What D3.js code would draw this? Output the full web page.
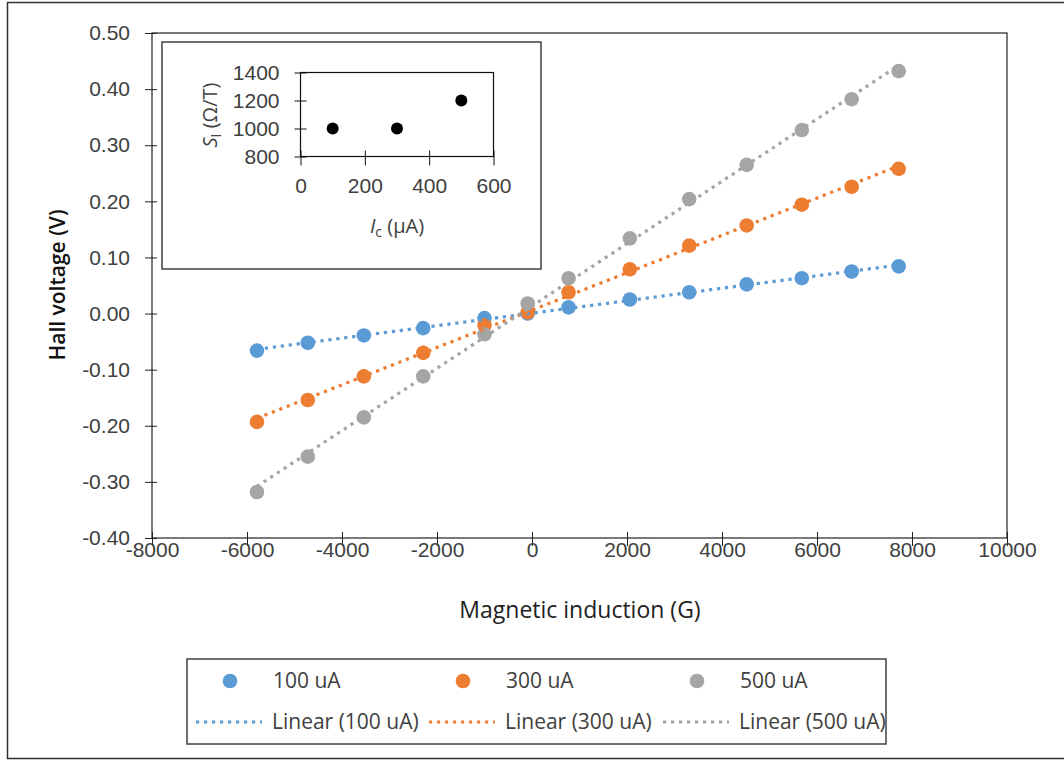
<!DOCTYPE html>
<html>
<head>
<meta charset="utf-8">
<script src="https://cdn.jsdelivr.net/npm/d3@7"></script>
<style>
body { margin: 0; background: #fff; }
svg { font-family: "Open Sans", sans-serif; }
.tick text { fill: #404040; font-size: 21px; }
</style>
</head>
<body>
<script>
// magnetic induction (G), same for every series
var field = [-5790, -4720, -3540, -2290, -1000, -90, 770, 2060, 3310, 4520, 5680, 6730, 7720]
var hall100 = [-0.066, -0.052, -0.039, -0.026, -0.008, 0.000, 0.011, 0.025, 0.038, 0.052, 0.063, 0.075, 0.084]
var hall300 = [-0.193, -0.154, -0.112, -0.070, -0.021, 0.002, 0.038, 0.079, 0.121, 0.157, 0.194, 0.226, 0.258]
var hall500 = [-0.318, -0.255, -0.185, -0.112, -0.037, 0.018, 0.063, 0.134, 0.204, 0.265, 0.327, 0.382, 0.432]
var names = ['100 uA', '300 uA', '500 uA']
var colors = ['#5B9BD5', '#ED7D31', '#A5A5A5']

var xTicks = [-8000, -6000, -4000, -2000, 0, 2000, 4000, 6000, 8000, 10000]
var yTicks = [-0.4, -0.3, -0.2, -0.1, 0, 0.1, 0.2, 0.3, 0.4, 0.5]

// inset: sensitivity vs current
var current = [100, 300, 500]
var sensitivity = [1000, 1000, 1200]
var insetXTicks = [0, 200, 400, 600]
var insetYTicks = [800, 1000, 1200, 1400]

var series = [hall100, hall300, hall500].map(function(vals, i){
  return {name: names[i], color: colors[i], pts: vals.map(function(v, j){ return {b: field[j], v: v} })}
})

var svg = d3.select('body').append('svg').attr('width', 1064).attr('height', 762)

// outer frame
svg.append('rect').attr('x', 7.5).attr('y', 2.5).attr('width', 1070).attr('height', 756)
  .attr('fill', 'none').attr('stroke', '#303030').attr('stroke-width', 1.5)

var x = d3.scaleLinear().domain([-8000, 10000]).range([152, 1007])
var y = d3.scaleLinear().domain([-0.4, 0.5]).range([538, 33])

var yAxis = svg.append('g').attr('transform', 'translate(152,0)')
  .call(d3.axisLeft(y).tickValues(yTicks).tickSize(0).tickPadding(22).tickFormat(function(d){ return d.toFixed(2) }))
yAxis.select('.domain').remove()
yAxis.selectAll('.tick line').attr('x1', -7).attr('x2', 5).attr('stroke', '#222')

var xAxis = svg.append('g').attr('transform', 'translate(0,538)')
  .call(d3.axisBottom(x).tickValues(xTicks).tickSize(0).tickPadding(4).tickFormat(function(d){ return String(d) }))
xAxis.select('.domain').remove()
xAxis.selectAll('.tick line').attr('y1', -6).attr('y2', 8).attr('stroke', '#222')

// plot box
svg.append('rect').attr('x', 152).attr('y', 33).attr('width', 1007 - 152).attr('height', 538 - 33)
  .attr('fill', 'none').attr('stroke', '#222').attr('stroke-width', 1.2)

svg.append('text').attr('x', 580).attr('y', 618).attr('text-anchor', 'middle')
  .attr('font-size', 23).attr('fill', '#222').text('Magnetic induction (G)')
svg.append('text').attr('transform', 'translate(58,285) rotate(-90)').attr('text-anchor', 'middle')
  .attr('dy', '0.35em').attr('font-size', 21).attr('font-weight', 600).attr('fill', '#111').text('Hall voltage (V)')

// markers
series.forEach(function(s){
  svg.append('g').selectAll('circle').data(s.pts).join('circle')
    .attr('cx', function(d){ return x(d.b) }).attr('cy', function(d){ return y(d.v) })
    .attr('r', 7.3).attr('fill', s.color)
})

// linear trendlines (least squares)
series.forEach(function(s){
  var mb = d3.mean(s.pts, function(d){ return d.b }), mv = d3.mean(s.pts, function(d){ return d.v })
  var num = d3.sum(s.pts, function(d){ return (d.b - mb) * (d.v - mv) })
  var den = d3.sum(s.pts, function(d){ return (d.b - mb) * (d.b - mb) })
  var k = num / den, c0 = mv - k * mb
  var ext = d3.extent(s.pts, function(d){ return d.b })
  svg.append('line')
    .attr('x1', x(ext[0])).attr('y1', y(k * ext[0] + c0))
    .attr('x2', x(ext[1])).attr('y2', y(k * ext[1] + c0))
    .attr('stroke', s.color).attr('stroke-width', 3.2).attr('stroke-dasharray', '3.2 4.8')
})

// inset
svg.append('rect').attr('x', 162).attr('y', 42).attr('width', 379).attr('height', 227)
  .attr('fill', '#fff').attr('stroke', '#404040').attr('stroke-width', 1.5)

var ix = d3.scaleLinear().domain([0, 600]).range([300.5, 493.5])
var iy = d3.scaleLinear().domain([800, 1400]).range([156.5, 72.5])

var iyAxis = svg.append('g').attr('transform', 'translate(300.5,0)')
  .call(d3.axisLeft(iy).tickValues(insetYTicks).tickSize(0).tickPadding(21).tickFormat(d3.format('d')))
iyAxis.select('.domain').remove()
iyAxis.selectAll('.tick line').attr('x1', -6).attr('x2', 6).attr('stroke', '#111')

var ixAxis = svg.append('g').attr('transform', 'translate(0,156.5)')
  .call(d3.axisBottom(ix).tickValues(insetXTicks).tickSize(0).tickPadding(22).tickFormat(d3.format('d')))
ixAxis.select('.domain').remove()
ixAxis.selectAll('.tick line').attr('y1', -6).attr('y2', 9).attr('stroke', '#111')

svg.append('rect').attr('x', 300.5).attr('y', 72.5).attr('width', 193).attr('height', 84)
  .attr('fill', 'none').attr('stroke', '#111').attr('stroke-width', 1.2)

svg.append('g').selectAll('circle').data(current).join('circle')
  .attr('cx', function(d){ return ix(d) }).attr('cy', function(d, i){ return iy(sensitivity[i]) })
  .attr('r', 6).attr('fill', '#000')

var ilx = svg.append('text').attr('x', 397).attr('y', 233).attr('text-anchor', 'middle')
  .attr('font-size', 20).attr('fill', '#404040')
ilx.append('tspan').attr('font-style', 'italic').text('I')
ilx.append('tspan').attr('font-size', 14).attr('dy', 4).text('c')
ilx.append('tspan').attr('dy', -4).text(' (µA)')

var ily = svg.append('text').attr('transform', 'translate(210,115) rotate(-90)').attr('text-anchor', 'middle')
  .attr('dy', '0.35em').attr('font-size', 20).attr('fill', '#404040')
ily.append('tspan').attr('font-style', 'italic').text('S')
ily.append('tspan').attr('font-size', 14).attr('dy', 4).text('I')
ily.append('tspan').attr('dy', -4).text(' (Ω/T)')

// legend
var lg = svg.append('g')
lg.append('rect').attr('x', 187).attr('y', 659).attr('width', 699).attr('height', 85)
  .attr('fill', '#fff').attr('stroke', '#404040').attr('stroke-width', 1.5)
var legendX = [230, 463, 697]
var lineX = [196, 429, 663]
series.forEach(function(s, i){
  lg.append('circle').attr('cx', legendX[i]).attr('cy', 681).attr('r', 7.3).attr('fill', s.color)
  lg.append('text').attr('x', legendX[i] + 43).attr('y', 681).attr('dy', '0.35em')
    .attr('font-size', 21).attr('fill', '#404040').text(s.name)
  lg.append('line').attr('x1', lineX[i]).attr('x2', lineX[i] + 66).attr('y1', 722).attr('y2', 722)
    .attr('stroke', s.color).attr('stroke-width', 3.2).attr('stroke-dasharray', '3.2 4.8')
  lg.append('text').attr('x', lineX[i] + 76).attr('y', 722).attr('dy', '0.35em')
    .attr('font-size', 21).attr('fill', '#404040').text('Linear (' + s.name + ')')
})
</script>
</body>
</html>
